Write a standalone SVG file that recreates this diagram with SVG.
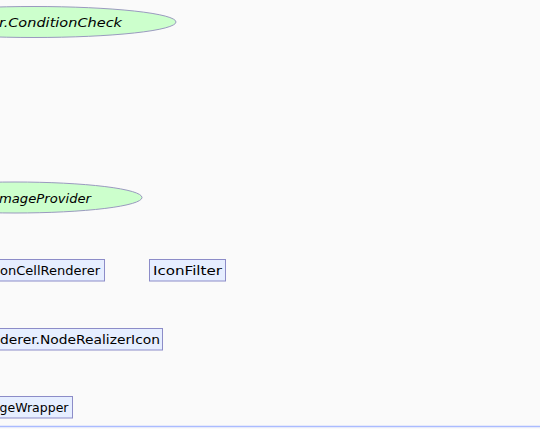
<svg xmlns="http://www.w3.org/2000/svg" width="540" height="429" viewBox="0 0 540 429">
<style>
.bg{fill:#fafafa}
.ell{fill:#ccffcc;stroke:#9a9abf;stroke-width:1}
.box{fill:#e6eeff;stroke:#8c8cc8;stroke-width:1}
.t{font-family:"DejaVu Sans","Liberation Sans",sans-serif;font-size:12.5px;fill:#000}
.ti{font-family:"DejaVu Sans","Liberation Sans",sans-serif;font-size:13px;font-style:italic;fill:#000}
.base{stroke:#aabbff;stroke-width:1.5}
</style>
<rect class="bg" x="0" y="0" width="540" height="429"/>
<g id="connectors"></g>
<g id="node-conditioncheck">
<ellipse class="ell" cx="34" cy="22" rx="142" ry="15.5"/>
<text class="ti" x="122" y="27" text-anchor="end" textLength="123" lengthAdjust="spacingAndGlyphs">r.ConditionCheck</text>
</g>
<g id="node-imageprovider">
<ellipse class="ell" cx="15" cy="197.5" rx="127" ry="15.5"/>
<text class="ti" x="91" y="202.5" text-anchor="end" textLength="92" lengthAdjust="spacingAndGlyphs">mageProvider</text>
</g>
<g id="node-iconcellrenderer">
<rect class="box" x="-50" y="259.5" width="154.5" height="21.5"/>
<text class="t" x="100" y="275" text-anchor="end" textLength="100" lengthAdjust="spacingAndGlyphs">onCellRenderer</text>
</g>
<g id="node-iconfilter">
<rect class="box" x="149.5" y="259.5" width="76" height="21.5"/>
<text class="t" x="153" y="275" textLength="69" lengthAdjust="spacingAndGlyphs">IconFilter</text>
</g>
<g id="node-noderealizericon">
<rect class="box" x="-50" y="328.5" width="212.5" height="21.5"/>
<text class="t" x="160" y="344" text-anchor="end" textLength="160" lengthAdjust="spacingAndGlyphs">derer.NodeRealizerIcon</text>
</g>
<g id="node-imagewrapper">
<rect class="box" x="-50" y="396.5" width="122.5" height="21.5"/>
<text class="t" x="68.5" y="412" text-anchor="end" textLength="69" lengthAdjust="spacingAndGlyphs">geWrapper</text>
</g>
<line class="base" x1="0" y1="426.5" x2="540" y2="426.5"/>
</svg>
